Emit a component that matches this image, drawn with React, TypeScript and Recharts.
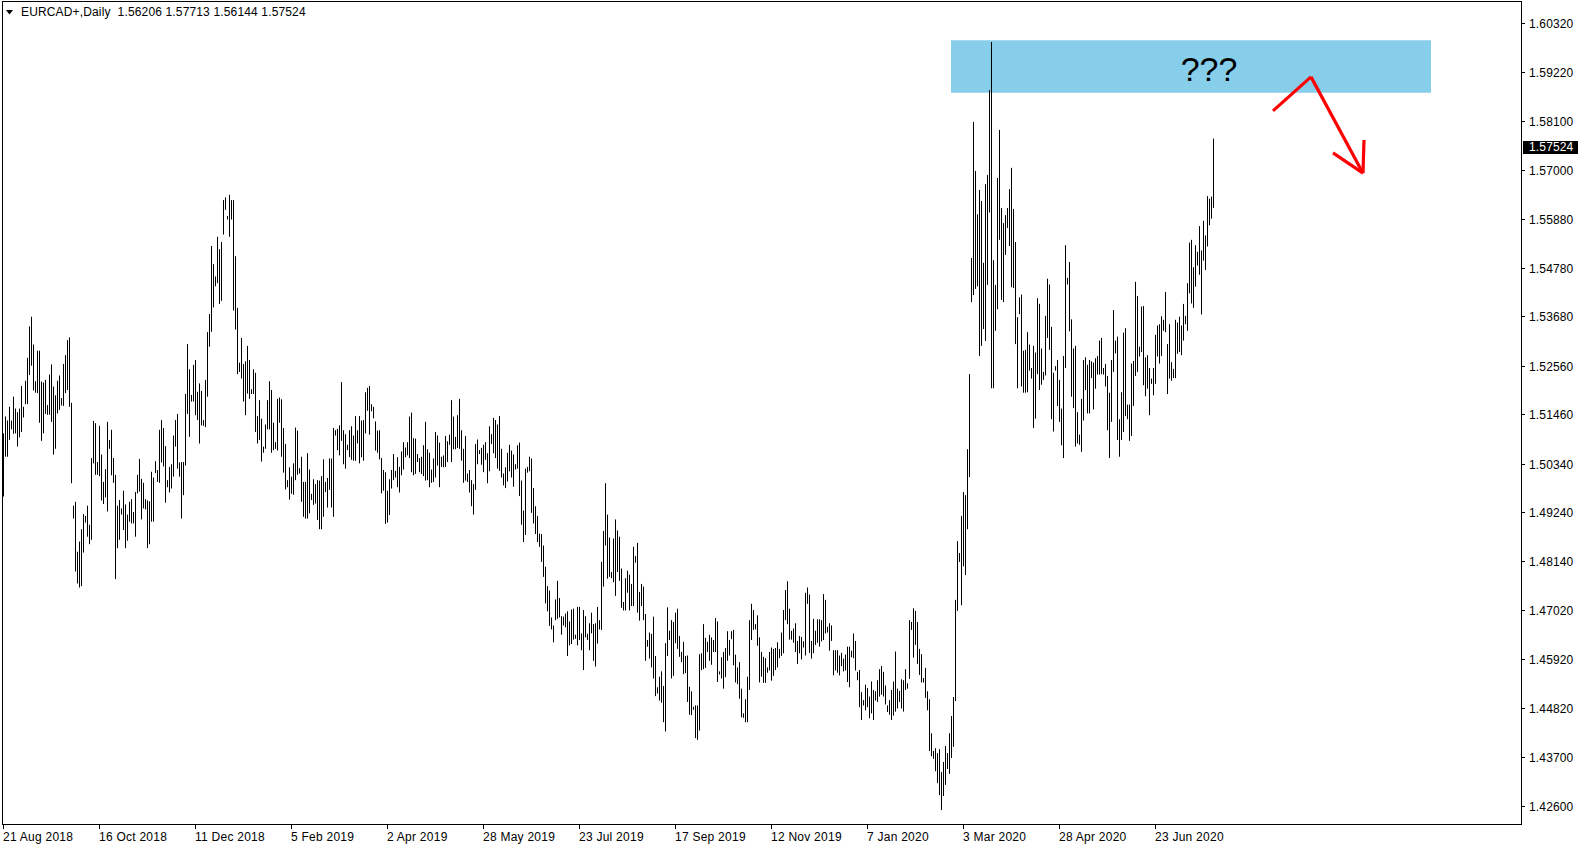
import React from "react";
import { ComposedChart, Bar, XAxis, YAxis, ReferenceArea, ReferenceLine, ReferenceDot } from "recharts";

// EURCAD+ daily bars: high and low of each day, oldest first
const highs2018 = [
  1.5104, 1.5142, 1.5133, 1.5164, 1.5133, 1.5187, 1.516, 1.5152, 1.516, 1.5211,
  1.5164, 1.5223, 1.5275, 1.5346, 1.5368, 1.5305, 1.5222, 1.5291, 1.5291, 1.5221,
  1.5219, 1.5225, 1.5168, 1.5237, 1.526, 1.521, 1.519, 1.5223, 1.5235, 1.5184,
  1.5261, 1.5281, 1.5315, 1.5321, 1.5173, 1.494, 1.4949, 1.4836, 1.4859, 1.4887,
  1.4921, 1.4917, 1.494, 1.4897, 1.5048, 1.5132, 1.5127, 1.5039, 1.5121, 1.5056,
  1.4994, 1.5023, 1.513, 1.5089, 1.5112, 1.5048, 1.501, 1.494, 1.4953, 1.4934,
  1.4974, 1.4943, 1.492, 1.4949, 1.4955, 1.4926, 1.4971, 1.501, 1.5046, 1.5001,
  1.4992, 1.4955, 1.4952, 1.495, 1.5017, 1.5004, 1.5041, 1.5021, 1.5112, 1.5134,
  1.5116, 1.5075, 1.4998, 1.5028, 1.5034, 1.5099, 1.5134, 1.5148, 1.5038, 1.5039,
  1.5039, 1.5193, 1.5306, 1.5249, 1.5191, 1.5259, 1.527, 1.5198, 1.5217, 1.52,
  1.5134, 1.5225, 1.5333, 1.5374, 1.5528, 1.5487, 1.5459, 1.5549, 1.5521, 1.5537,
  1.5632, 1.5638, 1.5596, 1.5644,
];
const lows2018 = [
  1.4961, 1.5051, 1.5051, 1.5089, 1.5113, 1.5103, 1.5104, 1.5074, 1.5095, 1.5107,
  1.514, 1.517, 1.517, 1.5236, 1.5257, 1.5201, 1.5196, 1.5195, 1.5128, 1.5087,
  1.5104, 1.5148, 1.5146, 1.5146, 1.513, 1.5056, 1.5069, 1.5149, 1.5157, 1.5167,
  1.5166, 1.5195, 1.5202, 1.5164, 1.4991, 1.4911, 1.4791, 1.4764, 1.4755, 1.4758,
  1.4834, 1.4902, 1.487, 1.4853, 1.4863, 1.5036, 1.501, 1.501, 1.5007, 1.4952,
  1.4944, 1.4959, 1.4927, 1.5069, 1.5009, 1.4992, 1.4774, 1.4844, 1.4863, 1.492,
  1.4885, 1.4844, 1.4861, 1.4904, 1.49, 1.49, 1.487, 1.4968, 1.4972, 1.4909,
  1.4934, 1.4932, 1.4844, 1.4853, 1.4904, 1.4904, 1.5014, 1.4994, 1.4992, 1.5038,
  1.5029, 1.4947, 1.4982, 1.497, 1.4979, 1.5006, 1.5074, 1.5024, 1.5006, 1.4911,
  1.4964, 1.5031, 1.5148, 1.5096, 1.5176, 1.5176, 1.5145, 1.5134, 1.5081, 1.5122,
  1.5121, 1.5118, 1.5187, 1.53, 1.5334, 1.5389, 1.5437, 1.5444, 1.5397, 1.5404,
  1.5554, 1.561, 1.5588, 1.5549,
];

const highs2019 = [
  1.5632, 1.5632, 1.5505, 1.5388, 1.5264, 1.532,
  1.5261, 1.5267, 1.5302, 1.527, 1.5204, 1.5249, 1.5241, 1.5143, 1.5179, 1.5137,
  1.5074, 1.5124, 1.5179, 1.5222, 1.5202, 1.5128, 1.5084, 1.5182, 1.5185, 1.5181,
  1.5116, 1.508, 1.4998, 1.5027, 1.5006, 1.5036, 1.5117, 1.511, 1.5025, 1.5051,
  1.4994, 1.4994, 1.5059, 1.5022,
  1.4967, 1.5, 1.4989, 1.4998, 1.4997, 1.5007, 1.5045, 1.4994, 1.5003, 1.5047,
  1.5047, 1.5116, 1.5111, 1.5114, 1.5122, 1.522, 1.5111, 1.5102, 1.5078, 1.5111,
  1.512, 1.5099, 1.5143, 1.5111, 1.5143, 1.5133, 1.5134, 1.5197, 1.5207, 1.5211,
  1.517, 1.5164, 1.5131, 1.511, 1.5111, 1.5048, 1.5021, 1.5016, 1.4974, 1.5,
  1.5021, 1.5057, 1.5019, 1.505, 1.5028, 1.5063, 1.5084, 1.5072, 1.5084, 1.5142,
  1.5151, 1.5093, 1.5092, 1.5057, 1.5048, 1.5051, 1.5077, 1.513, 1.5068, 1.506,
  1.5022, 1.5047, 1.5107, 1.5099, 1.5083, 1.5051, 1.5054, 1.5098, 1.5086, 1.5101,
  1.5179, 1.5142, 1.5096, 1.5145, 1.5182,
  1.5111, 1.5069, 1.5098, 1.5013, 1.5021, 1.4998, 1.4989, 1.508, 1.509, 1.5066,
  1.5071, 1.5078, 1.5084, 1.5059, 1.512, 1.5102, 1.5139, 1.5134, 1.5124, 1.5143,
  1.5069, 1.5013, 1.5027, 1.506, 1.5078, 1.5065, 1.5056, 1.5034, 1.5077, 1.5083,
  1.4997, 1.4929, 1.5024, 1.5028, 1.5051, 1.5047, 1.498, 1.4939, 1.4917, 1.4877,
  1.4876, 1.485, 1.4802, 1.4758, 1.4748, 1.4687, 1.4669, 1.4728, 1.477, 1.4731,
  1.469, 1.4689, 1.4696, 1.4701, 1.4678, 1.4705, 1.4707, 1.4648, 1.4711, 1.4711,
  1.4651, 1.4704, 1.469, 1.465, 1.4674, 1.4698, 1.4672, 1.4674, 1.4711, 1.4681,
  1.4813, 1.4883, 1.4991, 1.492, 1.4868,
  1.479, 1.4866, 1.4909, 1.4884, 1.487, 1.4798, 1.4722, 1.4776, 1.4793, 1.4784,
  1.4763, 1.4847, 1.4826, 1.4856, 1.4745, 1.4763, 1.4757, 1.4695, 1.4636, 1.4653,
  1.465, 1.4689, 1.46, 1.4529, 1.4553, 1.4565, 1.4532, 1.4629, 1.471, 1.4657,
  1.4681, 1.4677, 1.4698, 1.4707, 1.4645, 1.4609, 1.4632, 1.46, 1.4601, 1.453,
  1.452, 1.4485, 1.4488, 1.4488, 1.4604, 1.4606, 1.4672, 1.4641, 1.4632, 1.4648,
  1.4642, 1.4636, 1.4686, 1.4678, 1.4565, 1.4597, 1.4609, 1.4618, 1.4656, 1.4636,
  1.4656, 1.4659, 1.4603, 1.4574, 1.4586, 1.4526, 1.447, 1.4502, 1.4553, 1.4681,
  1.4718, 1.4704, 1.4672, 1.4692, 1.4642,
  1.4609, 1.4598, 1.4595, 1.4574, 1.4609, 1.4619, 1.4616, 1.4618, 1.4631, 1.4616,
  1.4653, 1.4704, 1.4749, 1.4769, 1.4707, 1.4657, 1.4662, 1.4674, 1.4634, 1.4645,
  1.4643, 1.4633, 1.4743, 1.4755, 1.4739, 1.4634, 1.4684, 1.4657, 1.4683, 1.4683,
  1.4681, 1.474, 1.4727, 1.4666, 1.4674, 1.4669, 1.4613, 1.4613, 1.4613, 1.4601,
  1.4607, 1.4594, 1.4603, 1.4621, 1.4621, 1.4612, 1.4651,
];
const lows2019 = [
  1.5588, 1.5382, 1.5339, 1.5238, 1.5243, 1.5228,
  1.5176, 1.5145, 1.5194, 1.5182, 1.5193, 1.5193, 1.5107, 1.5081, 1.5089, 1.504,
  1.506, 1.5069, 1.5113, 1.5113, 1.506, 1.5066, 1.5069, 1.5065, 1.5128, 1.5051,
  1.5015, 1.4977, 1.4982, 1.4954, 1.4967, 1.4965, 1.4998, 1.501, 1.5013, 1.4949,
  1.4915, 1.4911, 1.4911, 1.4923,
  1.4953, 1.4942, 1.4945, 1.4908, 1.4887, 1.4887, 1.4915, 1.4971, 1.4936, 1.4976,
  1.4936, 1.4915, 1.5099, 1.5066, 1.5054, 1.5087, 1.5034, 1.5024, 1.5066, 1.505,
  1.5044, 1.5042, 1.5042, 1.5081, 1.5036, 1.505, 1.5042, 1.5104, 1.5155, 1.5101,
  1.5154, 1.5138, 1.5065, 1.506, 1.5045, 1.4968, 1.4974, 1.4899, 1.4902, 1.4919,
  1.4979, 1.4998, 1.5004, 1.4982, 1.497, 1.5009, 1.5022, 1.505, 1.5054, 1.5048,
  1.5016, 1.5009, 1.5012, 1.5039, 1.5016, 1.5012, 1.5007, 1.4997, 1.4998, 1.4982,
  1.4992, 1.4994, 1.5004, 1.5031, 1.4982, 1.5028, 1.5027, 1.5028, 1.5039, 1.5078,
  1.5039, 1.5068, 1.5068, 1.5071, 1.5069,
  1.5042, 1.4992, 1.4997, 1.4994, 1.497, 1.4939, 1.492, 1.4976, 1.5034, 1.5057,
  1.5033, 1.5016, 1.5044, 1.4991, 1.5018, 1.508, 1.5059, 1.5048, 1.5024, 1.5019,
  1.5004, 1.4986, 1.498, 1.4995, 1.5018, 1.5004, 1.4983, 1.5022, 1.5024, 1.4962,
  1.4897, 1.4858, 1.4874, 1.5015, 1.5018, 1.4924, 1.49, 1.4876, 1.4858, 1.4847,
  1.4813, 1.4779, 1.4719, 1.4701, 1.4668, 1.466, 1.4631, 1.4681, 1.4684, 1.4687,
  1.4648, 1.4669, 1.4665, 1.46, 1.4624, 1.4627, 1.4637, 1.4639, 1.4624, 1.4636,
  1.4613, 1.4568, 1.4642, 1.4636, 1.4613, 1.4651, 1.4589, 1.4576, 1.4628, 1.466,
  1.4659, 1.4757, 1.485, 1.4775, 1.4779,
  1.4776, 1.4767, 1.4736, 1.479, 1.477, 1.4709, 1.4703, 1.4703, 1.4743, 1.4703,
  1.4713, 1.4713, 1.4811, 1.4698, 1.468, 1.4713, 1.4681, 1.4589, 1.4621, 1.4594,
  1.4574, 1.4549, 1.4509, 1.4515, 1.4499, 1.4494, 1.445, 1.4429, 1.46, 1.4636,
  1.4549, 1.4555, 1.4629, 1.4616, 1.4598, 1.4586, 1.4559, 1.4561, 1.4496, 1.4467,
  1.4466, 1.4478, 1.4414, 1.441, 1.4431, 1.4568, 1.457, 1.4573, 1.4609, 1.4589,
  1.458, 1.4609, 1.4609, 1.4541, 1.4558, 1.4549, 1.4526, 1.4552, 1.4589, 1.4601,
  1.4638, 1.4579, 1.454, 1.4536, 1.4503, 1.4461, 1.446, 1.445, 1.445, 1.4523,
  1.4636, 1.4659, 1.466, 1.4623, 1.454,
  1.4553, 1.4539, 1.4539, 1.4562, 1.4567, 1.4544, 1.4555, 1.4568, 1.4574, 1.4595,
  1.46, 1.4606, 1.4681, 1.4672, 1.4637, 1.4637, 1.463, 1.4609, 1.4582, 1.4606,
  1.4592, 1.4619, 1.4601, 1.4718, 1.4607, 1.4594, 1.4606, 1.4625, 1.463, 1.4621,
  1.4633, 1.4636, 1.4651, 1.4653, 1.4612, 1.4634, 1.4556, 1.4567, 1.4562, 1.4556,
  1.4577, 1.4565, 1.4567, 1.4541, 1.4529, 1.4597, 1.4595,
];

const highs2020 = [
  1.4634, 1.4564, 1.4568,
  1.4518, 1.45, 1.4535, 1.4527, 1.4508, 1.4542, 1.4523, 1.452, 1.4545, 1.457,
  1.4577, 1.4564, 1.4533, 1.4488, 1.45, 1.4523, 1.4542, 1.461, 1.4526, 1.4521,
  1.4547, 1.4545, 1.457, 1.4538, 1.4681,
  1.4677, 1.4708, 1.4702, 1.4677, 1.4616, 1.4604, 1.455, 1.4573, 1.452, 1.4502,
  1.4425, 1.4385, 1.4391, 1.438, 1.4389, 1.4337, 1.436, 1.4396, 1.438, 1.4425,
  1.4464, 1.4507, 1.4727, 1.486, 1.4833, 1.4917, 1.4971, 1.4964, 1.5068, 1.5238,
  1.5501, 1.5809, 1.5698, 1.56, 1.5655, 1.563, 1.549, 1.5668, 1.5689, 1.5881,
  1.599, 1.5496, 1.544, 1.5682, 1.5791, 1.5614, 1.558, 1.5598, 1.5614, 1.5657,
  1.5705, 1.5612, 1.5537, 1.5367, 1.5412,
  1.5418, 1.5291, 1.5293, 1.5333, 1.5305, 1.5252, 1.5302, 1.5287, 1.541, 1.5397,
  1.5296, 1.5243, 1.537, 1.5454, 1.5441, 1.5345, 1.5241, 1.5256, 1.527, 1.5225,
  1.516, 1.5279, 1.553, 1.5456, 1.5492, 1.5362, 1.5296, 1.5302, 1.5152, 1.5101,
  1.5182, 1.527, 1.5276, 1.5259, 1.527, 1.5267, 1.5264, 1.5274, 1.5279, 1.5314,
  1.532, 1.5252, 1.5261, 1.5234, 1.5196, 1.527, 1.5383, 1.5314, 1.5323, 1.5136,
  1.5197, 1.5332, 1.5342, 1.5169, 1.5169, 1.5262, 1.5268, 1.5447, 1.5415, 1.53,
  1.5391, 1.5392, 1.5276, 1.5281, 1.5252, 1.5228, 1.5252, 1.5327, 1.5348, 1.5351,
  1.5369, 1.5361, 1.5424, 1.5306, 1.5351, 1.5265, 1.525, 1.5361, 1.5355, 1.5368,
  1.5348, 1.5397, 1.537, 1.5444, 1.5536, 1.5542, 1.548, 1.553, 1.5515, 1.5573,
  1.5518, 1.5585, 1.5552, 1.5641, 1.5635, 1.564, 1.57713,
];
const lows2020 = [
  1.4567, 1.4545, 1.4484,
  1.4455, 1.4488, 1.4477, 1.4484, 1.4459, 1.447, 1.4455, 1.4499, 1.4496, 1.4508,
  1.4512, 1.4508, 1.449, 1.4473, 1.4467, 1.4455, 1.4465, 1.4474, 1.4481, 1.4496,
  1.4481, 1.4474, 1.4523, 1.4526, 1.4548,
  1.4659, 1.4596, 1.4625, 1.4582, 1.4557, 1.454, 1.454, 1.4505, 1.4477, 1.4385,
  1.4373, 1.4367, 1.4339, 1.4312, 1.4285, 1.4251, 1.4283, 1.4308, 1.4344, 1.4333,
  1.4369, 1.4394, 1.4498, 1.4702, 1.4813, 1.4715, 1.4803, 1.4783, 1.4887, 1.5005,
  1.5401, 1.5417, 1.5431, 1.5437, 1.5279, 1.5302, 1.534, 1.5313, 1.544, 1.5604,
  1.5206, 1.5206, 1.5336, 1.5385, 1.5542, 1.5406, 1.5401, 1.5508, 1.5569, 1.5528,
  1.5435, 1.5433, 1.5306, 1.5206, 1.5374,
  1.521, 1.5196, 1.5196, 1.5197, 1.5246, 1.5228, 1.5116, 1.5137, 1.5238, 1.5202,
  1.5214, 1.5225, 1.5235, 1.532, 1.5293, 1.5136, 1.5108, 1.5246, 1.5166, 1.513,
  1.5077, 1.5048, 1.5252, 1.5441, 1.5335, 1.5187, 1.5161, 1.5074, 1.5081, 1.5078,
  1.5062, 1.5133, 1.5202, 1.5149, 1.5149, 1.5229, 1.5158, 1.5205, 1.5237, 1.5237,
  1.5238, 1.5237, 1.521, 1.5111, 1.5048, 1.513, 1.5243, 1.5285, 1.5089, 1.5051,
  1.5089, 1.5107, 1.5143, 1.5136, 1.5087, 1.5098, 1.5166, 1.5234, 1.5243, 1.5278,
  1.5288, 1.5213, 1.5188, 1.5205, 1.5145, 1.5216, 1.519, 1.5216, 1.5278, 1.5262,
  1.5279, 1.5336, 1.5333, 1.5193, 1.5228, 1.5223, 1.5229, 1.5229, 1.5284, 1.5288,
  1.5281, 1.5314, 1.5351, 1.5336, 1.5421, 1.5398, 1.5388, 1.5436, 1.5484, 1.5463,
  1.5373, 1.5495, 1.5474, 1.5527, 1.5575, 1.559, 1.56144,
];

const highs = [...highs2018, ...highs2019, ...highs2020];
const lows = [...lows2018, ...lows2019, ...lows2020];

// date labels sit every 48 bars (8 weeks of 6 bars)
const dateTickBars = [0, 48, 96, 144, 192, 240, 288, 336, 384, 432, 480, 528, 576];
const dateTickLabels = [
  "21 Aug 2018", "16 Oct 2018", "11 Dec 2018", "5 Feb 2019", "2 Apr 2019", "28 May 2019", "23 Jul 2019",
  "17 Sep 2019", "12 Nov 2019", "7 Jan 2020", "3 Mar 2020", "28 Apr 2020", "23 Jun 2020",
];
const priceTicks = [
  1.6032, 1.5922, 1.581, 1.57, 1.5588, 1.5478, 1.5368, 1.5256, 1.5146, 1.5034, 1.4924, 1.4814, 1.4702,
  1.4592, 1.4482, 1.437, 1.426,
];
const lastBar = [1.56206, 1.57713, 1.56144, 1.57524]; // open high low close

const data = highs.map((h, i) => ({ i, range: [lows[i], h] }));

const FONT = "'Liberation Sans', Arial, sans-serif";

function BarLine(props: any) {
  const { x, y, width, height } = props;
  if (x == null || y == null) return null;
  return <rect x={Math.floor(x + width / 2)} y={y} width={1} height={Math.max(height, 1)} fill="#000" />;
}

function DateTick(props: any) {
  const { x, y, payload } = props;
  const px = Math.floor(x) + 0.5;
  const label = dateTickLabels[dateTickBars.indexOf(payload.value)];
  return (
    <g>
      <line x1={px} y1={y} x2={px} y2={y + 5} stroke="#000" />
      <text x={Math.floor(x)} y={y + 17} fontSize={12} fontFamily={FONT} letterSpacing={0.25} fill="#000" textAnchor="start">
        {label}
      </text>
    </g>
  );
}

function PriceTick(props: any) {
  const { x, y, payload } = props;
  const py = Math.floor(y) + 0.5;
  return (
    <g>
      <line x1={x} y1={py} x2={x + 4} y2={py} stroke="#000" />
      <text x={x + 8} y={y + 4.5} fontSize={12} fontFamily={FONT} letterSpacing={0.15} fill="#000" textAnchor="start">
        {payload.value.toFixed(5)}
      </text>
    </g>
  );
}

function renderPriceTag(props: any) {
  const vb = props.viewBox || {};
  const right = (vb.x || 0) + (vb.width || 0);
  const y = vb.y || 0;
  return (
    <g>
      <rect x={right + 2} y={Math.round(y) - 6} width={55} height={13} fill="#000" />
      <text x={right + 8} y={y + 4.5} fontSize={12} fontFamily={FONT} letterSpacing={0.15} fill="#fff" textAnchor="start">
        {lastBar[3].toFixed(5)}
      </text>
    </g>
  );
}

function QuestionMarks(props: any) {
  return (
    <text x={props.cx} y={props.cy} fontSize={34} fontFamily={FONT} fill="#000" textAnchor="middle">
      ???
    </text>
  );
}

const red = "#ff0000";

export default function App() {
  return (
    <div style={{ position: "relative", width: 1585, height: 850, background: "#fff", fontFamily: FONT }}>
      <style>{"body{margin:0;background:#fff}"}</style>
      <ComposedChart width={1585} height={850} data={data} margin={{ top: 2, right: 0, bottom: 0, left: 2 }}>
        <XAxis
          dataKey="i"
          type="number"
          domain={[-0.75, 758.75]}
          allowDataOverflow
          ticks={dateTickBars}
          interval={0}
          height={26}
          axisLine={false}
          tickLine={false}
          tickSize={0}
          tickMargin={0}
          tick={DateTick}
        />
        <YAxis
          orientation="right"
          type="number"
          domain={[1.42195, 1.60805]}
          allowDataOverflow
          ticks={priceTicks}
          interval={0}
          width={64}
          axisLine={false}
          tickLine={false}
          tickSize={0}
          tickMargin={0}
          tick={PriceTick}
        />
        <ReferenceArea x1={473.75} x2={713.75} y1={1.5875} y2={1.5994} fill="#87ceeb" fillOpacity={1} stroke="none" />
        <Bar dataKey="range" barSize={1} fill="#000" isAnimationActive={false} shape={BarLine} />
        <ReferenceDot x={602.75} y={1.5902} r={1} shape={QuestionMarks} />
        <ReferenceLine segment={[{ x: 634.75, y: 1.5834 }, { x: 653.75, y: 1.5911 }]} stroke={red} strokeWidth={3.2} />
        <ReferenceLine segment={[{ x: 653.75, y: 1.5911 }, { x: 679.75, y: 1.5693 }]} stroke={red} strokeWidth={3.2} />
        <ReferenceLine segment={[{ x: 680.25, y: 1.5768 }, { x: 679.75, y: 1.5693 }]} stroke={red} strokeWidth={3.2} />
        <ReferenceLine segment={[{ x: 664.75, y: 1.5739 }, { x: 679.75, y: 1.5693 }]} stroke={red} strokeWidth={3.2} />
        <ReferenceLine y={lastBar[3]} stroke="none" ifOverflow="visible" label={renderPriceTag} />
      </ComposedChart>
      <div
        style={{
          position: "absolute",
          left: 2,
          top: 1,
          width: 1520,
          height: 824,
          border: "1px solid #000",
          boxSizing: "border-box",
          pointerEvents: "none",
        }}
      />
      <div
        style={{
          position: "absolute",
          left: 6,
          top: 5,
          height: 14,
          display: "flex",
          alignItems: "center",
          fontSize: 12,
          lineHeight: "14px",
          letterSpacing: "0.15px",
          whiteSpace: "pre",
          color: "#000",
        }}
      >
        <svg width={8} height={5} style={{ display: "block", marginRight: 7 }}>
          <polygon points="0,0 7,0 3.5,4.5" fill="#000" />
        </svg>
        <span>{`EURCAD+,Daily  ${lastBar.map((v) => v.toFixed(5)).join(" ")}`}</span>
      </div>
    </div>
  );
}
